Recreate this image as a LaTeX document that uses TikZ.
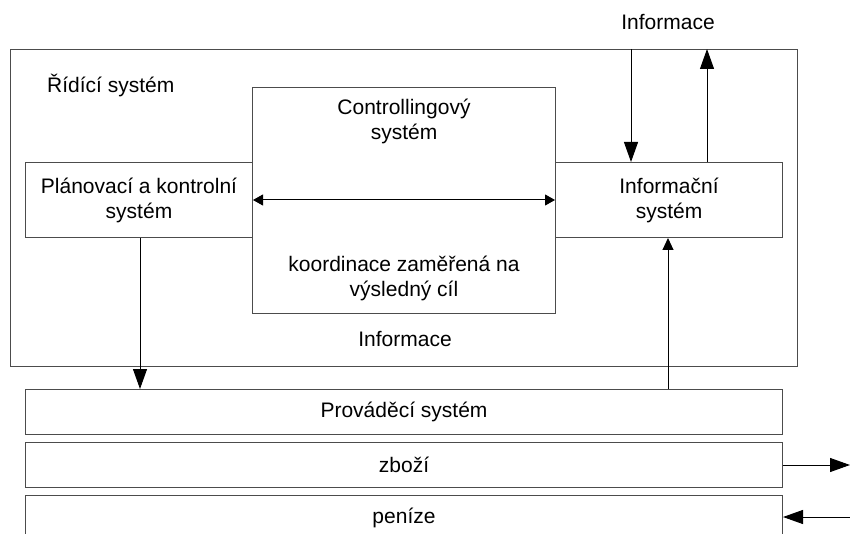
\documentclass[tikz,border=0pt]{standalone}
\usepackage{fontspec}
\setmainfont{Liberation Sans}
\usetikzlibrary{arrows.meta}
\begin{document}
\begin{tikzpicture}[x=1pt,y=-1pt,
  box/.style={draw=black!70, line width=1pt, anchor=north west, inner sep=0pt, fill=white},
  lbl/.style={align=center, inner sep=0pt, font=\fontsize{21}{25}\selectfont},
  bigarr/.style={line width=1pt, -{Triangle[length=20pt,width=14pt]}},
  smallarr/.style={line width=1pt, {Triangle[length=10pt,width=11pt]}-{Triangle[length=10pt,width=11pt]}},
  midarr/.style={line width=1pt, -{Triangle[length=12pt,width=11pt]}}
]
\clip (0,0) rectangle (850,534);
\useasboundingbox (0,0) rectangle (850,534);
% outer box
\node[box, minimum width=787pt, minimum height=317pt] (outer) at (10,49) {};
\node[box, minimum width=227pt, minimum height=75pt] (plan) at (25,162) {};
\node[box, minimum width=227pt, minimum height=75pt] (info) at (555,162) {};
\node[box, minimum width=303pt, minimum height=226pt] (ctrl) at (252,87) {};
\node[box, minimum width=757pt, minimum height=45pt] (prov) at (25,389) {};
\node[box, minimum width=757pt, minimum height=45pt] (zbozi) at (25,442) {};
\node[box, minimum width=757pt, minimum height=44pt] (penize) at (25,495) {};
% texts
\node[lbl, anchor=west] (ridici) at (47,86) {Řídící systém};
\node[lbl] (ctrlt) at (404,121) {Controllingový\\systém};
\node[lbl] (koord) at (404,278) {koordinace zaměřená na\\výsledný cíl};
\node[lbl] (plant) at (plan.center) {Plánovací a kontrolní\\systém};
\node[lbl] (infot) at (info.center) {Informační\\systém};
\node[lbl] (inf1) at (405,339) {Informace};
\node[lbl] (inf2) at (668,22) {Informace};
\node[lbl] (provt) at (prov.center) {Prováděcí systém};
\node[lbl] (zbozit) at (zbozi.center) {zboží};
\node[lbl] (penizet) at (penize.center) {peníze};
% arrows
\coordinate (tdown) at (631,49);
\coordinate (tup) at (707,49);
\coordinate (zout) at (850,465);
\coordinate (pin) at (850,517);
\draw[bigarr] (tdown) -- (tdown |- info.north);
\draw[bigarr] (tup |- info.north) -- (tup);
\draw[smallarr] (plan.east) -- (info.west);
\draw[bigarr] (plan.south -| 140,0) -- (prov.north -| 140,0);
\draw[midarr] (prov.north -| 668,0) -- (info.south -| 668,0);
\draw[bigarr] (zbozi.east) -- (zout);
\draw[bigarr] (pin) -- (penize.east |- pin);
\end{tikzpicture}
\end{document}
